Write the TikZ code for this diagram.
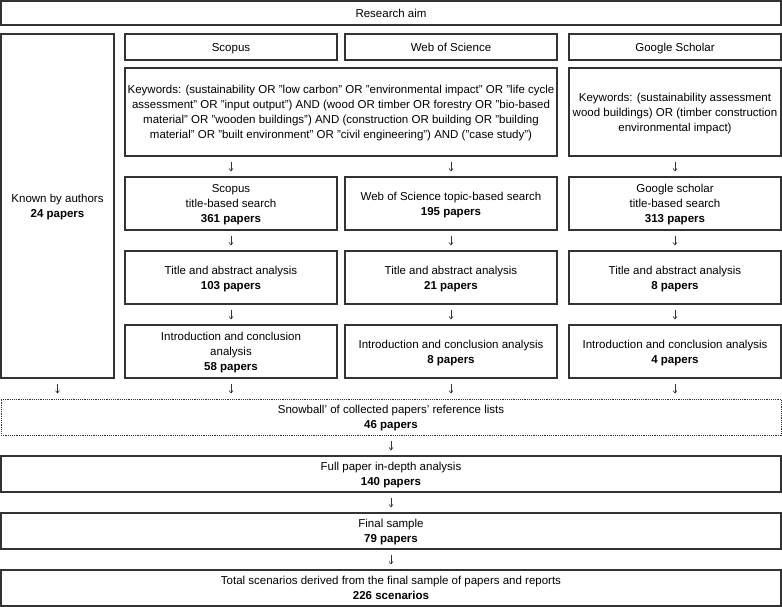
\documentclass[tikz,border=0pt]{standalone}
\usepackage{fontspec}
\setmainfont{Liberation Sans}
\usetikzlibrary{arrows.meta}

\begin{document}
\begin{tikzpicture}[x=1pt,y=-1pt,
	box/.style={draw=black!80,line width=1.2pt,align=center,inner sep=0pt,text depth=-1.6pt,font=\fontsize{11.5}{15}\selectfont},
	colbox/.style={box,minimum width=212pt,minimum height=53pt},
	headbox/.style={colbox,minimum height=26pt},
	widebox/.style={box,minimum width=780pt,minimum height=36pt},
	down/.style={-{Straight Barb[length=2.5pt,width=4pt]},line width=0.6pt,draw=black!80,shorten <=5pt,shorten >=5pt}]
	\useasboundingbox (0,0) rectangle (782,607);
	\node[box,minimum width=780pt,minimum height=24pt] (aim) at (391,13) {Research aim};
	\node[box,minimum width=113pt,minimum height=344pt] (known) at (57.5,206) {Known by authors\\\textbf{24 papers}};
	% databases
	\node[headbox] (scopus) at (231,47) {Scopus};
	\node[headbox] (wos) at (451,47) {Web of Science};
	\node[headbox] (gs) at (675,47) {Google Scholar};
	\node[box,minimum width=432pt,minimum height=88pt] (kw) at (341,112) {Keywords: (sustainability OR "low carbon" OR "environmental impact" OR "life cycle\\assessment" OR "input output") AND (wood OR timber OR forestry OR "bio-based\\material" OR "wooden buildings") AND (construction OR building OR "building\\material" OR "built environment" OR "civil engineering") AND ("case study")};
	\node[colbox,minimum height=88pt] (kwgs) at (675,112) {Keywords: (sustainability assessment\\wood buildings) OR (timber construction\\environmental impact)};
	% searches
	\node[colbox] (scsearch) at (231,203.5) {Scopus\\title-based search\\\textbf{361 papers}};
	\node[colbox] (wosearch) at (451,203.5) {Web of Science topic-based search\\\textbf{195 papers}};
	\node[colbox] (gssearch) at (675,203.5) {Google scholar\\title-based search\\\textbf{313 papers}};
	\node[colbox] (sctitle) at (231,277.5) {Title and abstract analysis\\\textbf{103 papers}};
	\node[colbox] (wotitle) at (451,277.5) {Title and abstract analysis\\\textbf{21 papers}};
	\node[colbox] (gstitle) at (675,277.5) {Title and abstract analysis\\\textbf{8 papers}};
	\node[colbox] (scintro) at (231,351.5) {Introduction and conclusion\\analysis\\\textbf{58 papers}};
	\node[colbox] (wointro) at (451,351.5) {Introduction and conclusion analysis\\\textbf{8 papers}};
	\node[colbox] (gsintro) at (675,351.5) {Introduction and conclusion analysis\\\textbf{4 papers}};
	% final steps
	\node[widebox,densely dotted,line width=1pt] (snow) at (391,417) {Snowball' of collected papers' reference lists\\\textbf{46 papers}};
	\node[widebox] (full) at (391,474) {Full paper in-depth analysis\\\textbf{140 papers}};
	\node[widebox] (final) at (391,531) {Final sample\\\textbf{79 papers}};
	\node[widebox] (total) at (391,588) {Total scenarios derived from the final sample of papers and reports\\\textbf{226 scenarios}};

	\draw[down] (kw.south -| scsearch) -- (scsearch);
	\draw[down] (kw.south -| wosearch) -- (wosearch);
	\draw[down] (kwgs) -- (gssearch);
	\foreach \c in {sc,wo,gs}{
		\draw[down] (\c search) -- (\c title);
		\draw[down] (\c title) -- (\c intro);
		\draw[down] (\c intro) -- (snow.north -| \c intro);
	}
	\draw[down] (known) -- (snow.north -| known);
	\draw[down] (snow) -- (full);
	\draw[down] (full) -- (final);
	\draw[down] (final) -- (total);
\end{tikzpicture}
\end{document}
